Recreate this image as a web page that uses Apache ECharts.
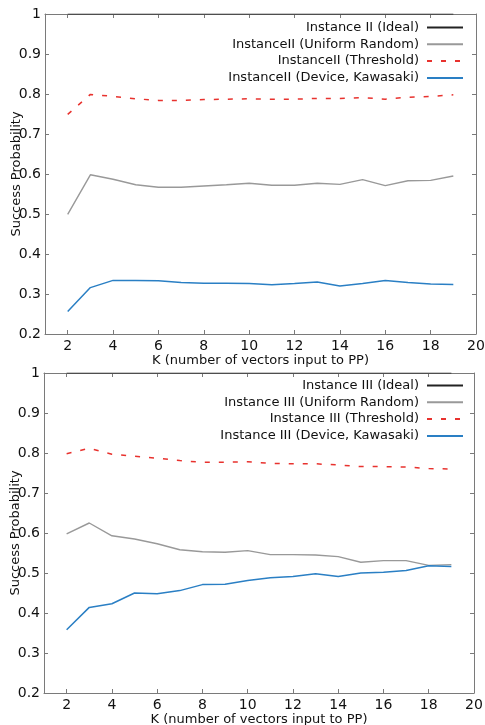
<!DOCTYPE html>
<html>
<head>
<meta charset="utf-8">
<script src="https://cdn.jsdelivr.net/npm/echarts@6/dist/echarts.min.js"></script>
<style>
  html, body { margin: 0; padding: 0; background: #fff; }
  #main { width: 485px; height: 725px; }
</style>
</head>
<body>
<div id="main"></div>
<script>
const kValues = [2, 3, 4, 5, 6, 7, 8, 9, 10, 11, 12, 13, 14, 15, 16, 17, 18, 19];
const xTicks = [2, 4, 6, 8, 10, 12, 14, 16, 18, 20];

// Instance II (top panel)
const names2 = ['Instance II (Ideal)', 'InstanceII (Uniform Random)', 'InstanceII (Threshold)', 'InstanceII (Device, Kawasaki)'];
const ideal2 = [1, 1, 1, 1, 1, 1, 1, 1, 1, 1, 1, 1, 1, 1, 1, 1, 1, 1];
const uniform2 = [0.499, 0.598, 0.587, 0.573, 0.567, 0.567, 0.570, 0.573, 0.577, 0.572, 0.572, 0.577, 0.574, 0.586, 0.571, 0.583, 0.584, 0.595];
const threshold2 = [0.749, 0.799, 0.794, 0.788, 0.784, 0.784, 0.786, 0.787, 0.788, 0.787, 0.787, 0.789, 0.789, 0.791, 0.787, 0.792, 0.794, 0.798];
const device2 = [0.256, 0.316, 0.334, 0.334, 0.333, 0.329, 0.327, 0.327, 0.326, 0.323, 0.326, 0.330, 0.320, 0.326, 0.334, 0.329, 0.325, 0.324];

// Instance III (bottom panel)
const names3 = ['Instance III (Ideal)', 'Instance III (Uniform Random)', 'Instance III (Threshold)', 'Instance III (Device, Kawasaki)'];
const ideal3 = [1, 1, 1, 1, 1, 1, 1, 1, 1, 1, 1, 1, 1, 1, 1, 1, 1, 1];
const uniform3 = [0.598, 0.625, 0.593, 0.585, 0.573, 0.558, 0.553, 0.552, 0.556, 0.546, 0.546, 0.545, 0.541, 0.527, 0.531, 0.531, 0.519, 0.521];
const threshold3 = [0.798, 0.812, 0.797, 0.792, 0.787, 0.781, 0.777, 0.777, 0.778, 0.774, 0.773, 0.773, 0.770, 0.766, 0.766, 0.765, 0.761, 0.760];
const device3 = [0.358, 0.414, 0.423, 0.450, 0.448, 0.456, 0.471, 0.472, 0.481, 0.488, 0.491, 0.498, 0.491, 0.500, 0.502, 0.506, 0.518, 0.516];

const font = 'DejaVu Sans';
const colors = ['#222222', '#999999', '#e8322e', '#2a7fc4'];
const frame = '#7a7a7a';

const pair = (vals) => kValues.map((k, i) => [k, vals[i]]);

const xAxisFor = (gi, shown) => ({
  type: 'value', gridIndex: gi, min: 1, max: 20,
  position: shown ? 'bottom' : 'top',
  name: shown ? 'K (number of vectors input to PP)' : '',
  nameLocation: 'middle', nameGap: 18,
  nameTextStyle: { fontFamily: font, fontSize: 13, color: '#111' },
  axisLine: { show: true, onZero: false, lineStyle: { color: frame, width: 1 } },
  axisTick: { show: true, inside: true, length: 4, customValues: xTicks, lineStyle: { color: frame } },
  axisLabel: { show: shown, customValues: xTicks, margin: 5, fontFamily: font, fontSize: 14, color: '#111' },
  splitLine: { show: false }
});

const yAxisFor = (gi, shown) => ({
  type: 'value', gridIndex: gi, min: 0.2, max: 1, interval: 0.1,
  position: shown ? 'left' : 'right',
  name: shown ? 'Success Probability' : '',
  nameLocation: 'middle', nameGap: 22, nameMoveOverlap: false,
  nameTextStyle: { fontFamily: font, fontSize: 13, color: '#111' },
  axisLine: { show: true, onZero: false, lineStyle: { color: frame, width: 1 } },
  axisTick: { show: true, inside: true, length: 4, lineStyle: { color: frame } },
  axisLabel: {
    show: shown, margin: 4, fontFamily: font, fontSize: 14, color: '#111',
    formatter: v => (Math.abs(v - 1) < 1e-6 ? '1' : v.toFixed(1))
  },
  splitLine: { show: false }
});

const lineSeries = (name, vals, idx, xi, yi) => ({
  name: name, type: 'line', xAxisIndex: xi, yAxisIndex: yi,
  data: pair(vals), symbol: 'none', z: idx === 0 ? 1 : 3,
  lineStyle: {
    color: colors[idx], width: idx === 0 ? 1.2 : (idx === 1 ? 1.4 : 1.5),
    type: idx === 2 ? [5, 9] : 'solid'
  },
  itemStyle: { color: colors[idx] }
});

const legendFor = (names, top) => ({
  data: names, orient: 'vertical', align: 'right',
  right: 21, top: top, padding: 0, itemWidth: 36, itemHeight: 14, itemGap: 3.8,
  itemStyle: { opacity: 0 },
  textStyle: { fontFamily: font, fontSize: 13, color: '#111', padding: [0, 3, 0, 0] },
  selectedMode: false
});

const chart = echarts.init(document.getElementById('main'));
chart.setOption({
  animation: false,
  backgroundColor: '#fff',
  grid: [
    { left: 45, right: 9, top: 14, height: 320, outerBoundsMode: 'none', containLabel: false },
    { left: 44, right: 11, top: 373, height: 320, outerBoundsMode: 'none', containLabel: false }
  ],
  xAxis: [xAxisFor(0, true), xAxisFor(0, false), xAxisFor(1, true), xAxisFor(1, false)],
  yAxis: [yAxisFor(0, true), yAxisFor(0, false), yAxisFor(1, true), yAxisFor(1, false)],
  legend: [legendFor(names2, 21), legendFor(names3, 379)],
  series: [
    lineSeries(names2[0], ideal2, 0, 0, 0),
    lineSeries(names2[1], uniform2, 1, 0, 0),
    lineSeries(names2[2], threshold2, 2, 0, 0),
    lineSeries(names2[3], device2, 3, 0, 0),
    lineSeries(names3[0], ideal3, 0, 2, 2),
    lineSeries(names3[1], uniform3, 1, 2, 2),
    lineSeries(names3[2], threshold3, 2, 2, 2),
    lineSeries(names3[3], device3, 3, 2, 2)
  ]
});
</script>
</body>
</html>
